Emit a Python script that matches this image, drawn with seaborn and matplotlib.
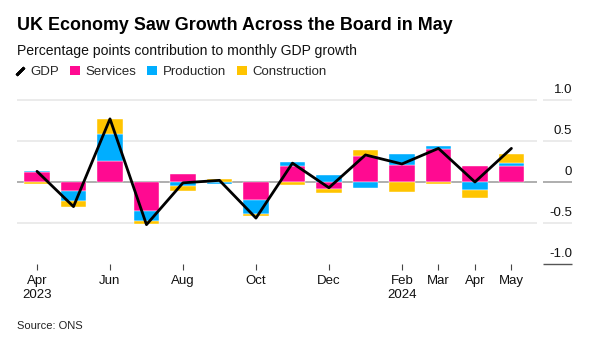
import numpy as np
import pandas as pd
import matplotlib
matplotlib.use("Agg")
import matplotlib.pyplot as plt
import seaborn as sns
from matplotlib.lines import Line2D
from matplotlib.patches import Patch

months = ["Apr 2023", "May 2023", "Jun 2023", "Jul 2023", "Aug 2023", "Sep 2023",
          "Oct 2023", "Nov 2023", "Dec 2023", "Jan 2024", "Feb 2024", "Mar 2024",
          "Apr 2024", "May 2024"]
services = [0.12, -0.11, 0.26, -0.35, 0.10, 0.00, -0.22, 0.19, -0.09, 0.32, 0.21, 0.40, 0.19, 0.20]
production = [0.01, -0.12, 0.33, -0.13, -0.05, -0.03, -0.17, 0.06, 0.08, -0.07, 0.13, 0.04, -0.10, 0.03]
construction = [-0.02, -0.07, 0.18, -0.03, -0.06, 0.04, -0.03, -0.04, -0.04, 0.07, -0.12, -0.02, -0.09, 0.11]
gdp = [0.13, -0.30, 0.77, -0.52, -0.01, 0.02, -0.44, 0.23, -0.07, 0.33, 0.22, 0.41, 0.00, 0.41]

tick_idx = [0, 2, 4, 6, 8, 10, 11, 12, 13]
tick_labels = ["Apr\n2023", "Jun", "Aug", "Oct", "Dec", "Feb\n2024", "Mar", "Apr", "May"]
y_ticks = [1.0, 0.5, 0.0, -0.5, -1.0]
y_tick_labels = ["1.0", "0.5", "0", "-0.5", "-1.0"]

series = {"Services": services, "Production": production, "Construction": construction}
colors = {"Services": "#ff0a91", "Production": "#00aeff", "Construction": "#ffc400"}

sns.set_theme(style="white")
plt.rcParams["font.family"] = ["Liberation Sans", "DejaVu Sans"]

fig = plt.figure(figsize=(5.93, 3.43), dpi=100)
ax = fig.add_axes([17 / 593, 1 - 264 / 343, (572 - 17) / 593, (264 - 100) / 343])

x = np.arange(len(months))
xl, xr = -0.548, 14.66
main_r = 13.70
seg_l = 13.86
ax.set_xlim(xl, xr)
ax.set_ylim(-1.0, 1.0)

# gridlines
for yv in y_ticks:
    if yv == 0:
        c, lw = "#999999", 1.1
    elif yv == -1.0:
        c, lw = "#555555", 1.0
    else:
        c, lw = "#e6e6e6", 1.1
    if yv != -1.0:
        ax.plot([xl, main_r], [yv, yv], color=c, lw=lw, zorder=0.5 if yv != 0 else 1.5,
                clip_on=False, solid_capstyle="butt")
    ax.plot([seg_l, xr], [yv, yv], color=c, lw=lw, zorder=0.5, clip_on=False,
            solid_capstyle="butt")

# stacked diverging bars
pos_base = np.zeros(len(months))
neg_base = np.zeros(len(months))
for name, vals in series.items():
    v = np.array(vals)
    bottoms = np.where(v >= 0, pos_base, neg_base)
    ax.bar(x, v, bottom=bottoms, width=0.7, color=colors[name], edgecolor="white",
           linewidth=0.3, zorder=2)
    pos_base = pos_base + np.where(v >= 0, v, 0)
    neg_base = neg_base + np.where(v < 0, v, 0)

df = pd.DataFrame({"x": x, "GDP": gdp})
sns.lineplot(data=df, x="x", y="GDP", ax=ax, color="black", lw=2.0, zorder=3)

# y labels (right side, above gridline segment)
for yv, lab in zip(y_ticks, y_tick_labels):
    ax.text(xr, yv + 0.05, lab, ha="right", va="bottom", fontsize=9.5, color="#111111")

ax.set_yticks([])
ax.set_xticks(tick_idx)
ax.set_xticklabels(tick_labels, fontsize=9.5, color="#111111", linespacing=1.2)
ax.tick_params(axis="x", length=4, width=0.8, color="#444444", pad=4, bottom=True)
ax.set_xlabel("")
ax.set_ylabel("")
for s in ax.spines.values():
    s.set_visible(False)
ax.grid(False)

fig.text(17 / 593, 1 - 30 / 343, "UK Economy Saw Growth Across the Board in May",
         fontsize=12.9, fontweight="bold", ha="left", va="baseline", color="#000000")
fig.text(17 / 593, 1 - 55 / 343, "Percentage points contribution to monthly GDP growth",
         fontsize=10.1, ha="left", va="baseline", color="#111111")
fig.text(17 / 593, 1 - 329 / 343, "Source: ONS", fontsize=8, ha="left", va="baseline",
         color="#222222")

handles = [Line2D([], [], color="black", marker=(2, 2, -45), linestyle="none",
                  markersize=8, markeredgewidth=2)]
labels = ["GDP"]
for name in series:
    handles.append(Patch(facecolor=colors[name], edgecolor="none"))
    labels.append(name)
fig.legend(handles, labels, loc="center left", bbox_to_anchor=(15 / 593, 1 - 72 / 343),
           ncol=4, frameon=False, fontsize=9.5, handlelength=0.75, handleheight=0.75,
           handletextpad=0.4, columnspacing=0.85, borderpad=0, borderaxespad=0)

fig.savefig("out.png", dpi=100)
